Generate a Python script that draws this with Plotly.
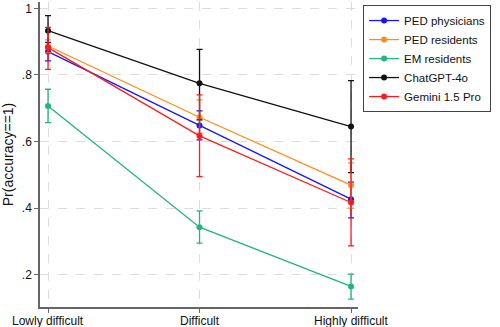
import plotly.graph_objects as go

categories = ["Lowly difficult", "Difficult", "Highly difficult"]
series_names = ["PED physicians", "PED residents", "EM residents", "ChatGPT-4o", "Gemini 1.5 Pro"]
colors = ["#1515ff", "#ff8c1a", "#24b47e", "#111111", "#ff1a1a"]

ped_phys = [0.870, 0.648, 0.427]
ped_phys_lo = [0.842, 0.605, 0.371]
ped_phys_hi = [0.898, 0.692, 0.478]

ped_res = [0.887, 0.673, 0.469]
ped_res_lo = [0.866, 0.625, 0.400]
ped_res_hi = [0.905, 0.725, 0.536]

em_res = [0.707, 0.343, 0.165]
em_res_lo = [0.657, 0.295, 0.127]
em_res_hi = [0.757, 0.392, 0.202]

chatgpt = [0.933, 0.775, 0.645]
chatgpt_lo = [0.885, 0.665, 0.507]
chatgpt_hi = [0.978, 0.877, 0.783]

gemini = [0.882, 0.617, 0.417]
gemini_lo = [0.817, 0.495, 0.287]
gemini_hi = [0.943, 0.740, 0.548]

data = [
    (ped_phys, ped_phys_lo, ped_phys_hi),
    (ped_res, ped_res_lo, ped_res_hi),
    (em_res, em_res_lo, em_res_hi),
    (chatgpt, chatgpt_lo, chatgpt_hi),
    (gemini, gemini_lo, gemini_hi),
]

xpos = list(range(len(categories)))
fig = go.Figure()
for name, col, (v, lo, hi) in zip(series_names, colors, data):
    fig.add_trace(go.Scatter(
        x=xpos, y=v, name=name, mode="lines+markers",
        line=dict(color=col, width=1.3),
        marker=dict(color=col, size=6),
        error_y=dict(type="data", symmetric=False,
                     array=[h - m for h, m in zip(hi, v)],
                     arrayminus=[m - l for m, l in zip(v, lo)],
                     color=col, thickness=1.3, width=3),
    ))

for xi, lab in zip(xpos, categories):
    fig.add_annotation(x=xi, y=0, xref="x", yref="paper", text=lab,
                       showarrow=False, xanchor="center", yanchor="top",
                       yshift=-5, font=dict(size=12, color="#111"))

grid = dict(showgrid=True, gridcolor="#dddddd", griddash="dash", gridwidth=1)
fig.update_layout(
    width=500, height=327,
    margin=dict(l=40, r=142, t=2, b=20),
    plot_bgcolor="white", paper_bgcolor="white",
    font=dict(family="Liberation Sans, Arial, sans-serif", size=12, color="#111"),
    xaxis=dict(range=[-0.053, 2.046], tickvals=xpos, showticklabels=False,
               showline=True, linecolor="#666", linewidth=1.5,
               ticks="outside", ticklen=4, tickcolor="#666", zeroline=False, **grid),
    yaxis=dict(range=[0.1033, 1.019], tickvals=[0.2, 0.4, 0.6, 0.8, 1.0],
               ticktext=[".2", ".4", ".6", ".8", "1"],
               showline=True, linecolor="#666", linewidth=1.5,
               ticks="outside", ticklen=4, tickcolor="#666", zeroline=False,
               title=dict(text="Pr(accuracy==1)", standoff=10), **grid),
    legend=dict(x=1.016, y=0.99, xanchor="left", yanchor="top",
                bordercolor="#444", borderwidth=1, bgcolor="white",
                font=dict(size=11.5), tracegroupgap=0, itemwidth=30),
    showlegend=True,
)
fig.write_html("out.html", config={"displayModeBar": False},
               post_script="document.body.style.margin='0';")
